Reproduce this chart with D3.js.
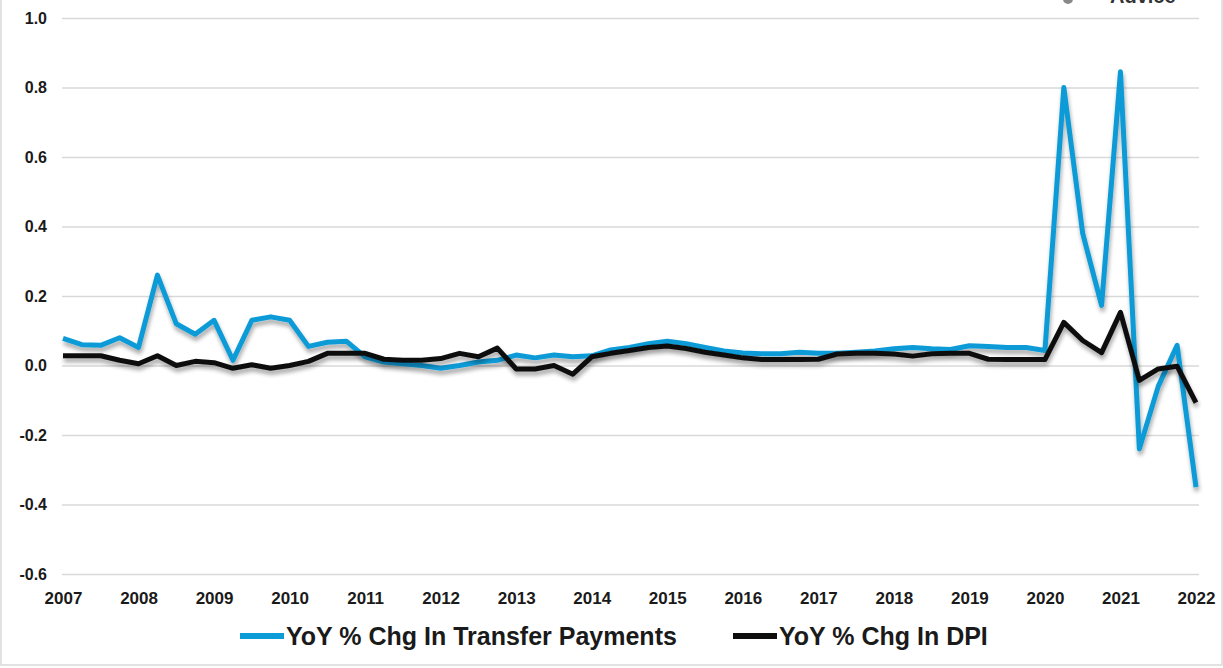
<!DOCTYPE html>
<meta charset="utf-8">
<title>Transfer Payments vs DPI</title>
<style>
    body {
        margin: 0;
        background: #fff;
    }

    .grid line {
        stroke: #d9d9d9;
        stroke-width: 1.3px;
    }

    .yaxis text {
        font-family: "Liberation Sans", Arial, sans-serif;
        font-weight: bold;
        font-size: 16px;
        fill: #1a1a1a;
    }

    .xaxis text {
        font-family: "Liberation Sans Narrow", "Liberation Sans", Arial, sans-serif;
        font-weight: bold;
        font-size: 17px;
        fill: #1a1a1a;
    }

    .series {
        fill: none;
        stroke-width: 5px;
        stroke-linejoin: round;
    }

    .legend text {
        font-family: "Liberation Sans Narrow", "Liberation Sans", Arial, sans-serif;
        font-weight: bold;
        font-size: 25px;
        fill: #1a1a1a;
    }
</style>

<body>
    <svg id="chart"></svg>
</body>

<script src="https://d3js.org/d3.v7.min.js"></script>
<script>
    // quarterly, 2007 Q1 .. 2022 Q1
    var startYear = 2007;
    var transferPayments = [
        0.078, 0.06, 0.058, 0.08, 0.052, 0.26, 0.12, 0.09, 0.13, 0.015,
        0.13, 0.14, 0.13, 0.055, 0.067, 0.07, 0.025, 0.01, 0.005, 0.0,
        -0.008, 0.0, 0.01, 0.015, 0.03, 0.022, 0.03, 0.025, 0.028, 0.045,
        0.052, 0.063, 0.07, 0.063, 0.052, 0.042, 0.036, 0.034, 0.034, 0.038,
        0.035, 0.035, 0.038, 0.042, 0.048, 0.052, 0.048, 0.046, 0.057, 0.055,
        0.052, 0.052, 0.043, 0.80, 0.38, 0.173, 0.845, -0.24, -0.06, 0.058,
        -0.35
    ];
    var dpi = [
        0.028, 0.028, 0.028, 0.015, 0.005, 0.028, 0.0, 0.012, 0.008, -0.008,
        0.002, -0.008, 0.0, 0.012, 0.035, 0.035, 0.035, 0.018, 0.015, 0.015,
        0.02, 0.035, 0.025, 0.05, -0.01, -0.01, 0.0, -0.025, 0.025, 0.035,
        0.043, 0.052, 0.056, 0.049, 0.038, 0.03, 0.022, 0.017, 0.017, 0.017,
        0.018, 0.033, 0.035, 0.035, 0.033, 0.027, 0.034, 0.035, 0.035, 0.018,
        0.017, 0.017, 0.017, 0.124, 0.072, 0.037, 0.153, -0.043, -0.01, -0.002,
        -0.107
    ];
    var yearTicks = d3.range(2007, 2023);
    var valueTicks = [-0.6, -0.4, -0.2, 0.0, 0.2, 0.4, 0.6, 0.8, 1.0];
    var seriesNames = ["YoY % Chg In Transfer Payments", "YoY % Chg In DPI"];
    var seriesColors = ["#0b9bd7", "#0d0d0d"];

    var width = 1223,
        height = 668;
    var margin = {
        left: 62,
        right: 1199,
        top: 18,
        bottom: 574
    };

    var svg = d3.select("#chart")
        .attr("width", width)
        .attr("height", height);

    // drop shadow under the lines
    var filter = svg.append("defs").append("filter")
        .attr("id", "shadow")
        .attr("x", "-5%").attr("y", "-5%")
        .attr("width", "110%").attr("height", "120%");
    filter.append("feGaussianBlur").attr("in", "SourceAlpha").attr("stdDeviation", 2.2);
    filter.append("feOffset").attr("dx", 1).attr("dy", 4).attr("result", "off");
    filter.append("feComponentTransfer").attr("in", "off").attr("result", "soft")
        .append("feFuncA").attr("type", "linear").attr("slope", 0.35);
    var merge = filter.append("feMerge");
    merge.append("feMergeNode").attr("in", "soft");
    merge.append("feMergeNode").attr("in", "SourceGraphic");

    // chart frame
    svg.append("rect")
        .attr("x", 1).attr("y", -5)
        .attr("width", width - 2).attr("height", height + 2)
        .attr("fill", "none")
        .attr("stroke", "#d9d9d9")
        .attr("stroke-width", 1.5);

    var x = d3.scaleLinear()
        .domain([startYear, 2022])
        .range([63, 1196]);

    var y = d3.scaleLinear()
        .domain([-0.6, 1.0])
        .range([margin.bottom, margin.top]);

    // y axis with gridlines
    svg.append("g")
        .attr("class", "grid yaxis")
        .attr("transform", "translate(" + margin.left + ",0)")
        .call(d3.axisLeft(y)
            .tickValues(valueTicks)
            .tickSize(-(margin.right - margin.left))
            .tickPadding(15)
            .tickFormat(d => d.toFixed(1)))
        .call(g => g.select(".domain").remove());

    // x axis labels
    svg.append("g")
        .attr("class", "xaxis")
        .attr("transform", "translate(0," + margin.bottom + ")")
        .call(d3.axisBottom(x)
            .tickValues(yearTicks)
            .tickSize(0)
            .tickPadding(18)
            .tickFormat(d3.format("d")))
        .call(g => g.select(".domain").remove());

    var line = d3.line()
        .x((d, i) => x(startYear + i / 4))
        .y(d => y(d));

    [transferPayments, dpi].forEach(function(values, k) {
        svg.append("path")
            .datum(values)
            .attr("class", "series")
            .attr("stroke", seriesColors[k])
            .attr("filter", "url(#shadow)")
            .attr("d", line);
    });

    // legend
    var legend = svg.append("g").attr("class", "legend");
    var legendX = [240, 733];
    seriesNames.forEach(function(name, k) {
        legend.append("line")
            .attr("x1", legendX[k]).attr("x2", legendX[k] + 44)
            .attr("y1", 636).attr("y2", 636)
            .attr("stroke", seriesColors[k])
            .attr("stroke-width", 6);
        legend.append("text")
            .attr("x", legendX[k] + 46)
            .attr("y", 645)
            .text(name);
    });

    // logo remnant at top right
    svg.append("text")
        .attr("x", 1110).attr("y", 3)
        .attr("font-family", "Liberation Sans, Arial, sans-serif")
        .attr("font-weight", "bold")
        .attr("font-size", 20)
        .attr("fill", "#333")
        .text("Advice");
    svg.append("circle")
        .attr("cx", 1068).attr("cy", -1)
        .attr("r", 5)
        .attr("fill", "#888");
</script>
